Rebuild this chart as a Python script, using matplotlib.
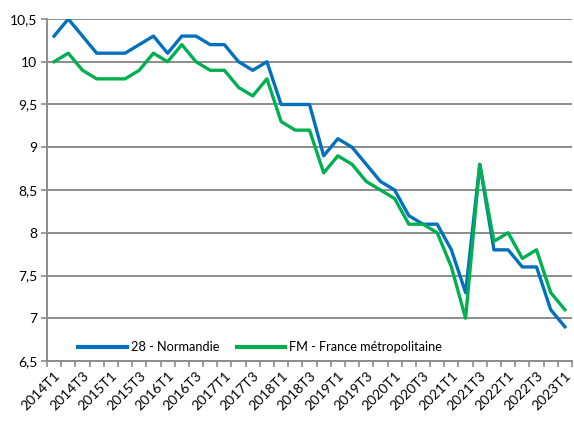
import numpy as np
import matplotlib.pyplot as plt
from matplotlib.ticker import FixedLocator, FuncFormatter

plt.rcParams["font.family"] = ["Lato", "DejaVu Sans"]

quarters = [f"{y}T{q}" for y in range(2014, 2024) for q in range(1, 5)][:37]

normandie = [10.3, 10.5, 10.3, 10.1, 10.1, 10.1, 10.2, 10.3, 10.1, 10.3, 10.3, 10.2,
             10.2, 10.0, 9.9, 10.0, 9.5, 9.5, 9.5, 8.9, 9.1, 9.0, 8.8, 8.6,
             8.5, 8.2, 8.1, 8.1, 7.8, 7.3, 8.8, 7.8, 7.8, 7.6, 7.6, 7.1, 6.9]
france = [10.0, 10.1, 9.9, 9.8, 9.8, 9.8, 9.9, 10.1, 10.0, 10.2, 10.0, 9.9,
          9.9, 9.7, 9.6, 9.8, 9.3, 9.2, 9.2, 8.7, 8.9, 8.8, 8.6, 8.5,
          8.4, 8.1, 8.1, 8.0, 7.6, 7.0, 8.8, 7.9, 8.0, 7.7, 7.8, 7.3, 7.1]

y_ticks = [6.5, 7, 7.5, 8, 8.5, 9, 9.5, 10, 10.5]

fig = plt.figure(figsize=(5.74, 4.21), dpi=100)
ax = fig.add_axes([0.0819, 0.1425, 0.9146, 0.8124])

x = np.arange(len(quarters))
ax.plot(x, normandie, color="#0070C0", linewidth=2.4, label="28 - Normandie", zorder=3)
ax.plot(x, france, color="#00B050", linewidth=2.4, label="FM - France métropolitaine", zorder=3)

ax.set_xlim(-0.5, len(quarters) - 0.5)
ax.set_ylim(6.5, 10.5)
ax.set_yticks(y_ticks)
ax.yaxis.set_major_formatter(FuncFormatter(lambda v, p: f"{v:g}".replace(".", ",")))
ax.grid(axis="y", color="#8c8c8c", linewidth=1.4, zorder=1)

ax.set_xticks(x[::2])
ax.set_xticklabels(quarters[::2], rotation=45, ha="right", rotation_mode="anchor")
ax.xaxis.set_minor_locator(FixedLocator(np.arange(-0.5, len(quarters), 1)))
ax.tick_params(axis="x", which="major", length=0, pad=6, labelsize=10)
ax.tick_params(axis="x", which="minor", length=4, color="#8c8c8c", width=1.2)
ax.tick_params(axis="y", length=4, color="#8c8c8c", width=1.2, labelsize=10, pad=3)

for side in ["top", "right"]:
    ax.spines[side].set_visible(False)
for side in ["left", "bottom"]:
    ax.spines[side].set_color("#8c8c8c")
    ax.spines[side].set_linewidth(1.4)

leg = ax.legend(loc="center", bbox_to_anchor=(0.406, 0.04), ncol=2, frameon=False,
                handlelength=3.8, fontsize=9.2, columnspacing=1.4, handletextpad=0.3)
for line in leg.get_lines():
    line.set_linewidth(3)

fig.savefig("out.png", dpi=100)
